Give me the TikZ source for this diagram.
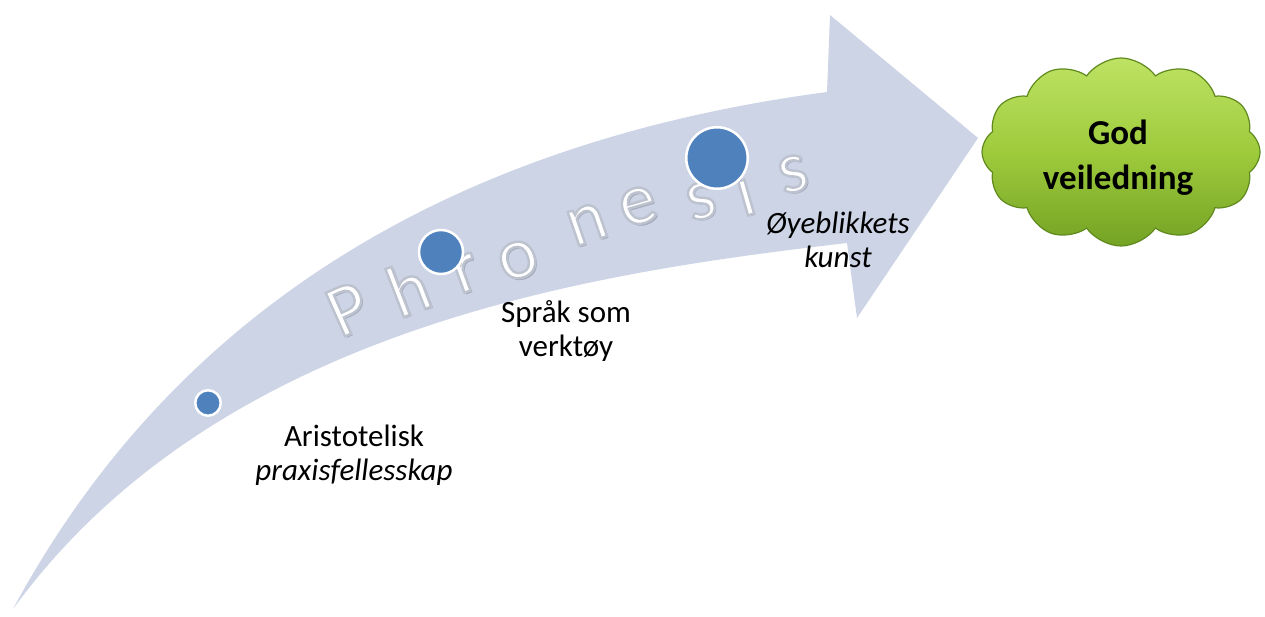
\documentclass[tikz,border=0pt]{standalone}
\usepackage{fontspec}
\setmainfont{Carlito}
\usetikzlibrary{shapes.symbols}
\definecolor{band}{RGB}{205,212,230}
\definecolor{dotblue}{RGB}{79,129,189}
\definecolor{cloudtop}{RGB}{190,226,100}
\definecolor{cloudmid}{RGB}{158,203,60}
\definecolor{cloudbot}{RGB}{116,162,36}
\definecolor{cloudline}{RGB}{96,138,30}
\definecolor{phshade}{RGB}{165,171,186}
% white letter with a grey outline (PDF text rendering mode 2)
\newcommand\outl[1]{\special{pdf:code 2 Tr 2.4 w 0.74 0.76 0.81 RG}#1\special{pdf:code 0 Tr}}
\newcommand\phlet[5]{%
  \node[phl,text=phshade,rotate=#4] (#1s) at (#2+2,#3+2) {#5};
  \node[phl,text=white,rotate=#4] (#1) at (#2,#3) {\outl{#5}};
}
\begin{document}
\begin{tikzpicture}[x=1pt,y=-1pt,
  phl/.style={anchor=center,inner sep=0pt,font=\fontsize{74}{74}\selectfont},
  dot/.style={circle,fill=dotblue,draw=white,line width=2.5pt,inner sep=0pt},
  lbl/.style={align=center,inner sep=0pt,font=\fontsize{31}{34}\selectfont},
  goalcloud/.style={cloud,cloud puffs=12,cloud puff arc=110,aspect=1.5,
    minimum width=278pt,minimum height=188pt,inner sep=0pt,
    top color=cloudtop,bottom color=cloudbot,middle color=cloudmid,
    draw=cloudline,line width=1.2pt},
  goallbl/.style={align=center,inner sep=0pt,
    font=\bfseries\fontsize{35}{45}\selectfont}]
\useasboundingbox (0,0) rectangle (1265,617);
% big curved arrow
\fill[band] (13,609) .. controls (185,290) and (480,138) .. (827,92)
  -- (830,15) -- (978,138) -- (857,318) -- (847,243)
  .. controls (599,272) and (220,325) .. (13,609) -- cycle;
% Phronesis letters
\phlet{L1}{348}{309}{24}{P}
\phlet{L2}{408}{288}{21}{h}
\phlet{L3}{466}{273}{20}{r}
\phlet{L4}{518}{260}{19}{o}
\phlet{L5}{587}{224}{19}{n}
\phlet{L6}{638}{206}{16}{e}
\phlet{L7}{701}{201}{15}{s}
\phlet{L8}{744}{190}{16}{i}
\phlet{L9}{793}{174}{14}{s}
% dots
\node[dot,minimum size=25.5pt] (c1) at (208,403) {};
\node[dot,minimum size=44pt] (c2) at (441,252) {};
\node[dot,minimum size=61.5pt] (c3) at (717,158) {};
% labels
\node[lbl] (t1) at (354,455) {Aristotelisk\\\textit{praxisfellesskap}};
\node[lbl] (t2) at (566,331) {Språk som\\verktøy};
\node[lbl] (t3) at (838,240) {\textit{Øyeblikkets}\\\textit{kunst}};
% goal cloud
\node[goalcloud] (goal) at (1121,152) {};
\node[goallbl] (goaltext) at (1118,158) {God\\veiledning};
\end{tikzpicture}
\end{document}
